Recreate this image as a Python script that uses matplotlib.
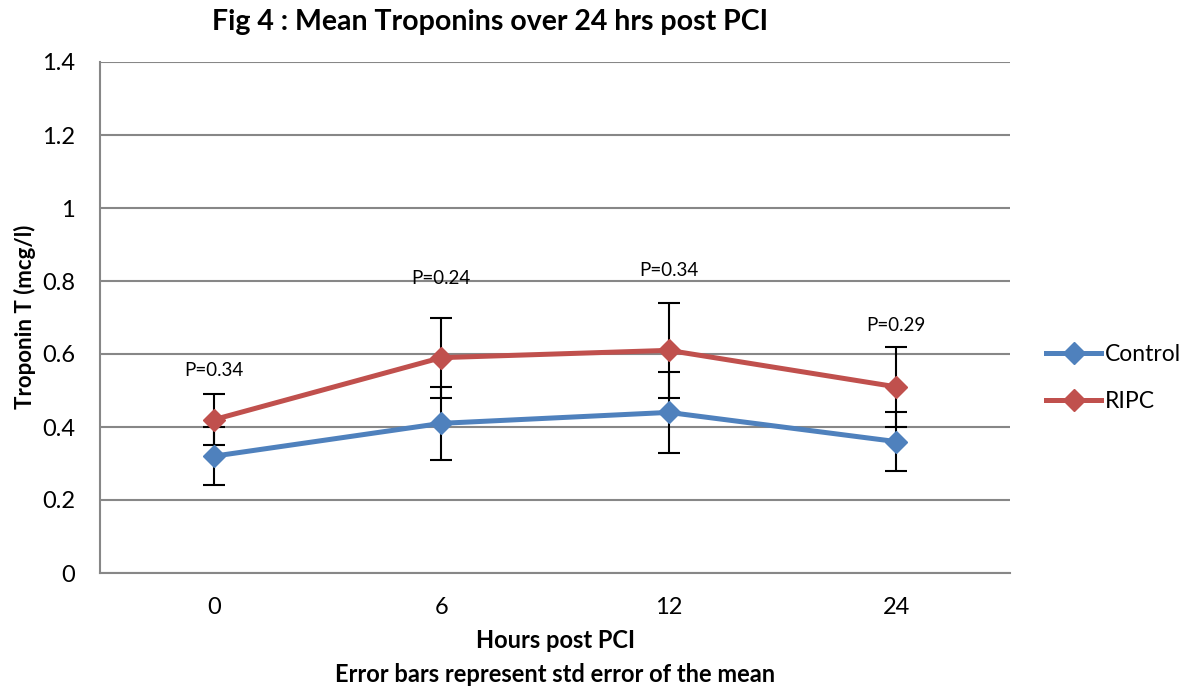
import numpy as np
import matplotlib.pyplot as plt
from matplotlib.lines import Line2D

plt.rcParams['font.family'] = ['Lato', 'DejaVu Sans']

hours = ["0", "6", "12", "24"]
control = [0.32, 0.41, 0.44, 0.36]
control_err = [0.08, 0.10, 0.11, 0.08]
ripc = [0.42, 0.59, 0.61, 0.51]
ripc_err = [0.07, 0.11, 0.13, 0.11]
p_labels = ["P=0.34", "P=0.24", "P=0.34", "P=0.29"]
p_label_y = [0.556, 0.808, 0.83, 0.677]

blue = "#4F81BD"
red = "#C0504D"
grid_col = "#878787"

fig = plt.figure(figsize=(11.9, 6.9), dpi=100)
ax = fig.add_axes([100 / 1190, 117 / 690, 910 / 1190, 511 / 690])

x = np.arange(len(hours))

ax.errorbar(x, control, yerr=control_err, color=blue, lw=3.6,
            marker="D", markersize=11, ecolor="black", elinewidth=1.5,
            capsize=8, capthick=1.5, zorder=3)
ax.errorbar(x, ripc, yerr=ripc_err, color=red, lw=3.6,
            marker="D", markersize=11, ecolor="black", elinewidth=1.5,
            capsize=8, capthick=1.5, zorder=3)

for xi, lab, yy in zip(x, p_labels, p_label_y):
    ax.text(xi, yy, lab, ha="center", va="center", fontsize=13.5)

ax.set_xlim(-0.5, len(hours) - 0.5)
ax.set_ylim(0, 1.4)
ax.set_yticks(np.arange(0, 1.41, 0.2))
ax.set_yticklabels(["0", "0.2", "0.4", "0.6", "0.8", "1", "1.2", "1.4"])
ax.set_xticks(x)
ax.set_xticklabels(hours)
ax.tick_params(length=0, labelsize=17, pad=18)
ax.tick_params(axis="x", pad=17)

ax.yaxis.grid(True, color=grid_col, lw=1.5)
ax.set_axisbelow(True)
for s in ["top", "right"]:
    ax.spines[s].set_visible(False)
for s in ["left", "bottom"]:
    ax.spines[s].set_color(grid_col)
    ax.spines[s].set_linewidth(1.5)

# axis titles placed by hand, like the original layout
fig.text(25 / 1190, 1 - 317 / 690, "Troponin T (mcg/l)", rotation=90,
         ha="center", va="center", fontsize=16, fontweight="bold")
fig.text(555 / 1190, 1 - 640 / 690, "Hours post PCI",
         ha="center", va="center", fontsize=17, fontweight="bold")
fig.text(555 / 1190, 1 - 675 / 690, "Error bars represent std error of the mean",
         ha="center", va="center", fontsize=17, fontweight="bold")
fig.text(490 / 1190, 1 - 22 / 690, "Fig 4 : Mean Troponins over 24 hrs post PCI",
         ha="center", va="center", fontsize=20.5, fontweight="bold")

handles = [Line2D([], [], color=blue, lw=3.6, marker="D", markersize=11),
           Line2D([], [], color=red, lw=3.6, marker="D", markersize=11)]
fig.legend(handles, ["Control", "RIPC"], loc="center left",
           bbox_to_anchor=(1046 / 1190, 1 - 378 / 690), frameon=False,
           fontsize=16.5, handlelength=2.4, handletextpad=0.15,
           labelspacing=1.1, borderpad=0, borderaxespad=0)

fig.savefig("out.png", dpi=100)
